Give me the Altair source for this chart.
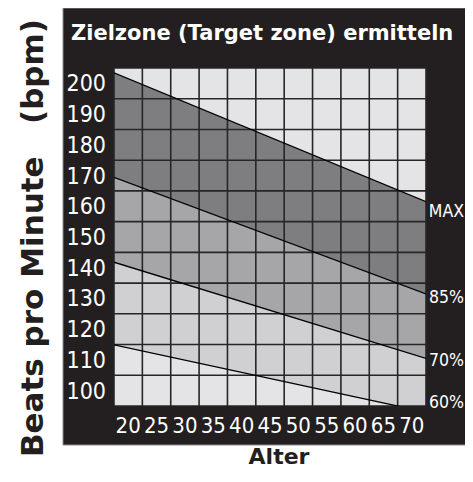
import altair as alt
import pandas as pd

# ---- data ----
ages = [17.5, 72.5]                 # left and right edges of the grid
hr_max = [203.4, 161.5]
hr_85 = [169.4, 131.5]
hr_70 = [141.8, 110.5]
hr_60 = [114.9, 93.0]

x_domain = [17.5, 72.5]
y_domain = [95, 205]
x_ticks = [20, 25, 30, 35, 40, 45, 50, 55, 60, 65, 70]
y_ticks = [100, 110, 120, 130, 140, 150, 160, 170, 180, 190, 200]
x_grid = [17.5, 22.5, 27.5, 32.5, 37.5, 42.5, 47.5, 52.5, 57.5, 62.5, 67.5, 72.5]
y_grid = [95, 105, 115, 125, 135, 145, 155, 165, 175, 185, 195, 205]

zone_names = ["MAX", "85%", "70%", "60%"]
zone_label_y = [158.2, 130.2, 109.7, 96.0]

title_text = "Zielzone (Target zone) ermitteln"
y_title = "Beats pro Minute\u00a0\u00a0\u00a0(bpm)"
x_title = "Alter"

# ---- tables ----
bands = pd.DataFrame({"age": ages, "max": hr_max, "p85": hr_85, "p70": hr_70, "p60": hr_60})
lines = pd.DataFrame({
    "zone": sum([[z] * len(ages) for z in zone_names], []),
    "age": ages * 4,
    "bpm": hr_max + hr_85 + hr_70 + hr_60,
})
bg = pd.DataFrame({"x0": [x_domain[0]], "x1": [x_domain[1]], "y0": [y_domain[0]], "y1": [y_domain[1]]})
vgrid = pd.DataFrame({"x": x_grid})
hgrid = pd.DataFrame({"y": y_grid})
labels = pd.DataFrame({"zone": zone_names, "y": zone_label_y})
xtick_df = pd.DataFrame({"v": x_ticks})
ytick_df = pd.DataFrame({"v": y_ticks})
title_df = pd.DataFrame({"t": [title_text], "yt": [y_title], "xt": [x_title]})

W, H = 312, 338
xs = alt.Scale(domain=x_domain, nice=False, zero=False)
ys = alt.Scale(domain=y_domain, nice=False, zero=False)

NARROW = "Liberation Sans Narrow, DejaVu Sans Condensed, sans-serif"
BOLD = "DejaVu Sans, Verdana, sans-serif"

frame = alt.Chart(title_df).mark_rect(
    fill="#231f20", stroke="#8c8c8c", strokeWidth=1
).encode(x=alt.value(-51), x2=alt.value(354), y=alt.value(-60), y2=alt.value(377))

title = alt.Chart(title_df).mark_text(
    align="left", baseline="alphabetic", font=BOLD, fontWeight="bold",
    fontSize=21, color="white"
).encode(x=alt.value(-43), y=alt.value(-28), text="t:N")

ytitle = alt.Chart(title_df).mark_text(
    align="center", baseline="alphabetic", font=BOLD, fontWeight="bold",
    fontSize=31, color="#231f20", angle=270
).encode(x=alt.value(-71), y=alt.value(170), text="yt:N")

xtitle = alt.Chart(title_df).mark_text(
    align="center", baseline="alphabetic", font=BOLD, fontWeight="bold",
    fontSize=22, color="#231f20"
).encode(x=alt.value(165), y=alt.value(396), text="xt:N")

background = alt.Chart(bg).mark_rect(fill="#e4e4e6").encode(
    x=alt.X("x0:Q", scale=xs, axis=None),
    x2="x1:Q",
    y=alt.Y("y0:Q", scale=ys, axis=None),
    y2="y1:Q",
)

def band(top, bottom, color):
    return alt.Chart(bands).mark_area(fill=color, clip=True).encode(
        x=alt.X("age:Q", scale=xs, axis=None),
        y=alt.Y(f"{top}:Q", scale=ys, axis=None),
        y2=f"{bottom}:Q",
    )

b1 = band("max", "p85", "#7e7e81")
b2 = band("p85", "p70", "#a6a6a9")
b3 = band("p70", "p60", "#d0d0d2")

vg = alt.Chart(vgrid).mark_rule(color="#262626", strokeWidth=1.6).encode(
    x=alt.X("x:Q", scale=xs, axis=None))
hg = alt.Chart(hgrid).mark_rule(color="#262626", strokeWidth=1.6).encode(
    y=alt.Y("y:Q", scale=ys, axis=None))

zl = alt.Chart(lines).mark_line(color="black", strokeWidth=1.3, clip=True).encode(
    x=alt.X("age:Q", scale=xs, axis=None),
    y=alt.Y("bpm:Q", scale=ys, axis=None),
    detail="zone:N",
)

zt = alt.Chart(labels).mark_text(
    align="right", baseline="middle", font=NARROW, fontSize=17.5, color="white"
).encode(
    x=alt.value(350),
    y=alt.Y("y:Q", scale=ys, axis=None),
    text="zone:N",
)

xlab = alt.Chart(xtick_df).mark_text(
    align="center", baseline="alphabetic", font=NARROW, fontSize=22, color="white"
).encode(
    x=alt.X("v:Q", scale=xs, axis=None),
    y=alt.value(365),
    text="v:N",
)

ylab = alt.Chart(ytick_df).mark_text(
    align="right", baseline="alphabetic", font=NARROW, fontSize=23, color="white", dy=8
).encode(
    x=alt.value(-8),
    y=alt.Y("v:Q", scale=ys, axis=None),
    text="v:N",
)

chart = alt.layer(
    frame, title, ytitle, xtitle, background, b1, b2, b3, vg, hg, zl, zt, xlab, ylab
).properties(
    width=W, height=H,
    autosize=alt.AutoSizeParams(type="none"),
    padding={"left": 106, "top": 60, "right": 39, "bottom": 64},
    background="white",
).configure_view(stroke=None)

chart.save("out.html", embed_options={"renderer": "svg", "actions": False})
